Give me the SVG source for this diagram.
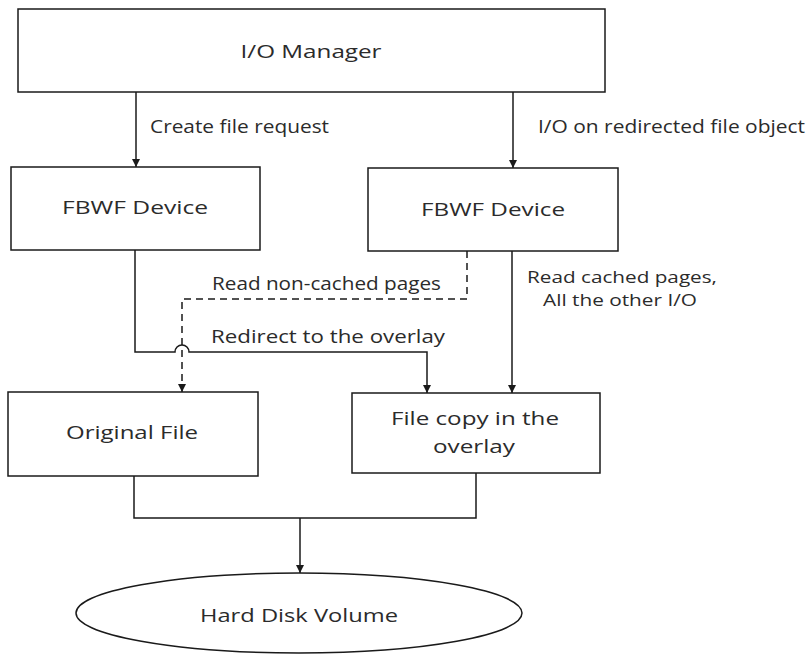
<svg xmlns="http://www.w3.org/2000/svg" width="809" height="654" viewBox="0 0 809 654">
<defs>
<marker id="ah" viewBox="0 0 10 10" refX="10" refY="5" markerWidth="8" markerHeight="8" markerUnits="userSpaceOnUse" orient="auto">
<path d="M0,0 L10,5 L0,10 z" fill="#1a1a1a"/>
</marker>
<style>
.box{fill:#fff;stroke:#1a1a1a;stroke-width:1.5}
.t{font-family:"Open Sans","Liberation Sans",sans-serif;font-size:18px;fill:#2b2b2b}
.s{font-size:16.5px}
.c{text-anchor:middle}
.ln{fill:none;stroke:#1a1a1a;stroke-width:1.5}
.dash{stroke-dasharray:7,5}
</style>
</defs>
<rect width="809" height="654" fill="#fff"/>
<g id="connectors">
<line class="ln" x1="136" y1="92" x2="136" y2="167" marker-end="url(#ah)"/>
<line class="ln" x1="513" y1="92" x2="513" y2="168" marker-end="url(#ah)"/>
<path class="ln" d="M135,250 V352 H175 A7,7 0 0 1 189,352 H427 V393" marker-end="url(#ah)"/>
<path class="ln dash" d="M467,251 V299 H182 V392" marker-end="url(#ah)"/>
<line class="ln" x1="512" y1="251" x2="512" y2="393" marker-end="url(#ah)"/>
<path class="ln" d="M134,476 V518 H476 V473"/>
<line class="ln" x1="300" y1="518" x2="300" y2="573" marker-end="url(#ah)"/>
<text class="t" x="150" y="133" textLength="179" lengthAdjust="spacingAndGlyphs">Create file request</text>
<text class="t" x="538" y="133" textLength="267" lengthAdjust="spacingAndGlyphs">I/O on redirected file object</text>
<text class="t" x="212" y="290" textLength="229" lengthAdjust="spacingAndGlyphs">Read non-cached pages</text>
<text class="t" x="211" y="343" textLength="234" lengthAdjust="spacingAndGlyphs">Redirect to the overlay</text>
<text class="t s c"><tspan x="622" y="283" textLength="190" lengthAdjust="spacingAndGlyphs">Read cached pages,</tspan><tspan x="620" y="306" textLength="154" lengthAdjust="spacingAndGlyphs">All the other I/O</tspan></text>
</g>
<g id="io-manager">
<rect class="box" x="18" y="9" width="587" height="83"/>
<text class="t c" x="311" y="58" textLength="141" lengthAdjust="spacingAndGlyphs">I/O Manager</text>
</g>
<g id="fbwf-left">
<rect class="box" x="11" y="167" width="249" height="83"/>
<text class="t c" x="135" y="214" textLength="146" lengthAdjust="spacingAndGlyphs">FBWF Device</text>
</g>
<g id="fbwf-right">
<rect class="box" x="368" y="168" width="250" height="83"/>
<text class="t c" x="493" y="216" textLength="144" lengthAdjust="spacingAndGlyphs">FBWF Device</text>
</g>
<g id="original-file">
<rect class="box" x="8" y="392" width="250" height="84"/>
<text class="t c" x="132" y="439" textLength="132" lengthAdjust="spacingAndGlyphs">Original File</text>
</g>
<g id="file-copy">
<rect class="box" x="352" y="393" width="248" height="80"/>
<text class="t c"><tspan x="475" y="425" textLength="168" lengthAdjust="spacingAndGlyphs">File copy in the</tspan><tspan x="474" y="453" textLength="82" lengthAdjust="spacingAndGlyphs">overlay</tspan></text>
</g>
<g id="hard-disk">
<ellipse class="box" cx="299" cy="613" rx="223" ry="40"/>
<text class="t c" x="299" y="622" textLength="198" lengthAdjust="spacingAndGlyphs">Hard Disk Volume</text>
</g>
</svg>
